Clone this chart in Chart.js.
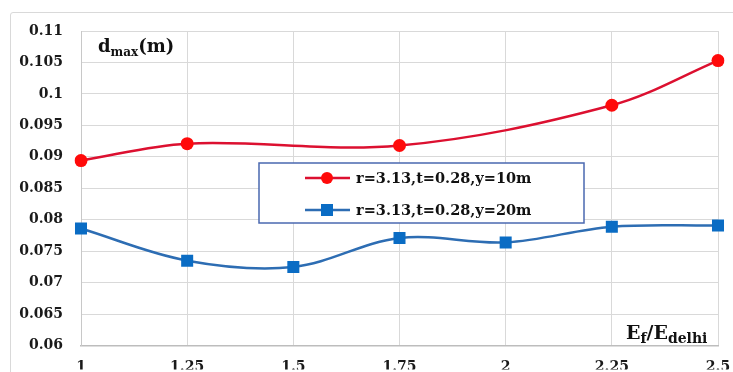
<!DOCTYPE html>
<html>
<head>
<meta charset="utf-8">
<script src="https://cdn.jsdelivr.net/npm/chart.js@4/dist/chart.umd.min.js"></script>
<style>
html, body { margin: 0; padding: 0; background: #fff; }
#wrap { position: relative; width: 733px; height: 372px; overflow: hidden; }
#frame { position: absolute; left: 10px; top: 12px; width: 740px; height: 400px; border: 1px solid #d9d9d9; border-radius: 3px; }
canvas { position: absolute; left: 0; top: 0; }
</style>
</head>
<body>
<div id="wrap">
  <div id="frame"></div>
  <canvas id="chart" width="733" height="372"></canvas>
</div>
<script>
"use strict";

// E_f / E_delhi ratios
const ratios = ['1', '1.25', '1.5', '1.75', '2', '2.25', '2.5'];
// d_max (m), y = 10 m (no markers at 1.5 and 2)
const dmax10 = [0.0894, 0.0921, null, 0.0918, null, 0.0982, 0.1053];
// d_max (m), y = 20 m
const dmax20 = [0.0786, 0.0735, 0.0725, 0.0771, 0.0764, 0.0789, 0.0791];
const seriesNames = ['r=3.13,t=0.28,y=10m', 'r=3.13,t=0.28,y=20m'];
const yTicks = [0.06, 0.065, 0.07, 0.075, 0.08, 0.085, 0.09, 0.095, 0.1, 0.105, 0.11];

const redLine = '#dc1030';
const redMark = '#ff0a0a';
const blueLine = '#2d6db3';
const blueMark = '#0a6cc4';
const serif = "'DejaVu Serif', 'Liberation Serif', serif";

// draws a bold text with a subscript part, returns end x
function subText(ctx, x, y, parts, big, small) {
    for (let i = 0; i < parts.length; i++) {
        const sub = i % 2 === 1;
        ctx.font = 'bold ' + (sub ? small : big) + 'px ' + serif;
        ctx.fillText(parts[i], x, sub ? y + 4 : y);
        x += ctx.measureText(parts[i]).width;
    }
    return x;
}

const extras = {
    id: 'extras',
    afterDraw(chart) {
        const ctx = chart.ctx;
        ctx.save();
        ctx.fillStyle = '#111';
        ctx.textBaseline = 'alphabetic';
        ctx.textAlign = 'left';

        // axis captions inside the plot
        subText(ctx, 98, 52, ['d', 'max', '(m)'], 18, 12);
        subText(ctx, 626, 339, ['E', 'f', '/E', 'delhi'], 19, 14);

        // legend box
        const bx = 259, by = 163, bw = 325, bh = 60;
        ctx.fillStyle = '#fff';
        ctx.fillRect(bx, by, bw, bh);
        ctx.strokeStyle = '#4a68b0';
        ctx.lineWidth = 1.5;
        ctx.strokeRect(bx, by, bw, bh);

        const rows = [
            { y: 178, line: redLine, mark: redMark, shape: 'circle' },
            { y: 210, line: blueLine, mark: blueMark, shape: 'rect' }
        ];
        rows.forEach((r, i) => {
            ctx.strokeStyle = r.line;
            ctx.lineWidth = 2.5;
            ctx.beginPath();
            ctx.moveTo(305, r.y);
            ctx.lineTo(350, r.y);
            ctx.stroke();
            ctx.fillStyle = r.mark;
            ctx.beginPath();
            if (r.shape === 'circle') {
                ctx.arc(327, r.y, 6, 0, Math.PI * 2);
            } else {
                ctx.rect(321, r.y - 6, 12, 12);
            }
            ctx.fill();

            ctx.fillStyle = '#111';
            ctx.font = 'bold 14.5px ' + serif;
            ctx.textBaseline = 'middle';
            ctx.fillText(seriesNames[i], 356, r.y + 1);
        });
        ctx.restore();
    }
};

const ctx = document.getElementById('chart').getContext('2d');

new Chart(ctx, {
    type: 'line',
    data: {
        labels: ratios,
        datasets: [
            {
                label: seriesNames[0],
                data: dmax10,
                borderColor: redLine,
                backgroundColor: redMark,
                borderWidth: 2.5,
                pointStyle: 'circle',
                pointRadius: 6.5,
                pointBorderWidth: 0,
                tension: 0.35,
                spanGaps: true
            },
            {
                label: seriesNames[1],
                data: dmax20,
                borderColor: blueLine,
                backgroundColor: blueMark,
                borderWidth: 2.5,
                pointStyle: 'rect',
                pointRadius: 8.5,
                pointBorderWidth: 0,
                tension: 0.35
            }
        ]
    },
    options: {
        responsive: false,
        animation: false,
        layout: { padding: { left: 0, right: 15, top: 31, bottom: 0 } },
        plugins: {
            legend: { display: false },
            tooltip: { enabled: false }
        },
        scales: {
            x: {
                offset: false,
                grid: { color: '#d9d9d9', drawTicks: false },
                border: { color: '#bdbdbd', width: 1.5 },
                ticks: {
                    padding: 13,
                    color: '#1a1a1a',
                    font: { family: serif, size: 14, weight: 'bold' },
                    maxRotation: 0
                },
                afterFit(scale) {
                    scale.height = 24;
                    scale.paddingLeft = 0;
                    scale.paddingRight = 0;
                }
            },
            y: {
                min: 0.06,
                max: 0.11,
                grid: { color: '#d9d9d9', drawTicks: false },
                border: { color: '#c8c8c8' },
                ticks: {
                    padding: 18,
                    color: '#1a1a1a',
                    font: { family: serif, size: 14, weight: 'bold' },
                    callback: v => String(+v.toFixed(3))
                },
                afterBuildTicks(scale) {
                    scale.ticks = yTicks.map(v => ({ value: v }));
                },
                afterFit(scale) { scale.width = 81; }
            }
        }
    },
    plugins: [extras]
});
</script>
</body>
</html>
